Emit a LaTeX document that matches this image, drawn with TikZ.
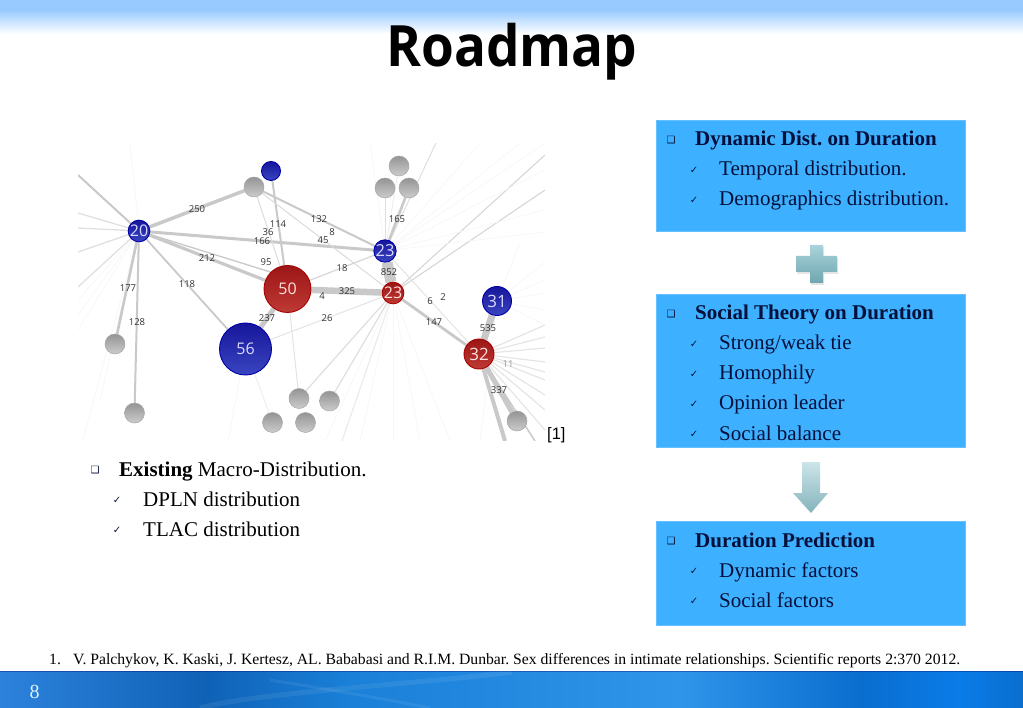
\documentclass[tikz,border=0pt]{standalone}
\usepackage{fontspec}
\usepackage{tikz}
\usetikzlibrary{calc,positioning,backgrounds}
\setmainfont{Liberation Serif}
\newfontfamily\titlefont[FakeStretch=0.93]{Open Sans}
\newfontfamily\graphfont{Open Sans}
\newfontfamily\markfont{DejaVu Sans}
\newfontfamily\refsans{Liberation Sans}
\definecolor{boxblue}{HTML}{3DB0FF}
\definecolor{boxink}{HTML}{04103A}
\definecolor{edgegrey}{gray}{0.79}
\definecolor{labelgrey}{gray}{0.2}
\definecolor{headblue}{HTML}{98CAFF}
\definecolor{redtop}{HTML}{9C1616}
\definecolor{redlow}{HTML}{BE3A34}
\definecolor{bluetop}{HTML}{16169A}
\definecolor{bluelow}{HTML}{3A45C0}
\definecolor{plustop}{HTML}{A9D3DA}
\definecolor{pluslow}{HTML}{6FA6B0}
\definecolor{foota}{HTML}{2D82DC}
\definecolor{footb}{HTML}{0F62B6}
\definecolor{footc}{HTML}{1A80D8}
\definecolor{footd}{HTML}{2F95EA}
\definecolor{foote}{HTML}{0A6ECF}
\definecolor{footf}{HTML}{0A7CE8}
\tikzset{redball/.style={shape=circle,inner sep=0pt,draw=red!65!black,line width=.9pt,top color=redtop,bottom color=redlow,text=white!88!red},
blueball/.style={shape=circle,inner sep=0pt,draw=blue!65!black,line width=.9pt,top color=bluetop,bottom color=bluelow,text=white!85!blue},
greyball/.style={shape=circle,inner sep=0pt,draw=black!35,line width=.5pt,top color=black!42,bottom color=black!20,minimum size=20pt},
edgelabel/.style={font=\graphfont\fontsize{9.5}{10}\selectfont,text=labelgrey,inner sep=0pt},
edge/.style={draw=edgegrey,line width=#1},
fainter/.style={draw=black!3,line width=.8pt},
roadbox/.style={fill=boxblue,draw=boxblue!80!white,line width=.6pt,inner sep=0pt},
headline/.style={anchor=base west,inner sep=0pt,font=\fontsize{21}{21}\selectfont\bfseries,text=boxink},
itemline/.style={anchor=base west,inner sep=0pt,font=\fontsize{21}{21}\selectfont,text=boxink},
squaremark/.style={anchor=center,inner sep=0pt,font=\markfont\fontsize{10}{10}\selectfont,text=boxink},
checkmark/.style={anchor=center,inner sep=0pt,font=\markfont\fontsize{10}{10}\selectfont,text=boxink}}

\begin{document}
\frenchspacing
\begin{tikzpicture}[x=1pt,y=-1pt]
\useasboundingbox (0,0) rectangle (1023,708);

% Header and footer bands
\fill[headblue] (0,0) rectangle (1023,10);
\shade[top color=headblue,bottom color=white] (0,10) rectangle (1023,34);
\shade[left color=foota,right color=footb] (0,671) rectangle (205,708);
\shade[left color=footb,right color=footc] (205,671) rectangle (350,708);
\shade[left color=footc,right color=footd] (350,671) rectangle (680,708);
\shade[left color=footd,right color=foote] (680,671) rectangle (860,708);
\shade[left color=foote,right color=footf] (860,671) rectangle (960,708);
\shade[left color=footf,right color=foote] (960,671) rectangle (1023,708);
\draw[white,opacity=.07,line width=5pt] (200,708) .. controls (260,692) and (420,684) .. (512,672);
\draw[white,opacity=.07,line width=3pt] (270,680) .. controls (320,688) and (380,698) .. (430,708);
\fill[black!60!blue,opacity=.35] (0,670.5) rectangle (1023,671.5);

% Title
\node[font=\titlefont\bfseries\fontsize{57}{57}\selectfont,inner sep=0pt,anchor=base] (title) at (512,67) {Roadmap};

% Coloured nodes
\node[blueball,minimum size=19pt,font=\graphfont\fontsize{16}{16}\selectfont] (n20) at (139,231) {20};
\node[blueball,minimum size=19pt] (nTop) at (271,171) {};
\node[redball,minimum size=47pt,font=\graphfont\fontsize{16}{16}\selectfont] (n50) at (287.5,289) {50};
\node[blueball,minimum size=52pt,font=\graphfont\fontsize{16}{16}\selectfont] (n56) at (245.5,349) {56};
\node[blueball,minimum size=21pt,font=\graphfont\fontsize{16.5}{17}\selectfont] (nB23) at (385,251) {23};
\node[redball,minimum size=21pt,font=\graphfont\fontsize{16}{16}\selectfont] (nR23) at (393,293) {23};
\node[blueball,minimum size=29pt,font=\graphfont\fontsize{17}{17}\selectfont] (n31) at (497,301) {31};
\node[redball,minimum size=30pt,font=\graphfont\fontsize{17}{17}\selectfont] (n32) at (479,354) {32};

% Grey nodes
\node[greyball] (gTop) at (254,187) {};
\node[greyball] (gLeft) at (115,344) {};
\node[greyball] (gLow) at (134.5,413) {};
\node[greyball] (gA) at (299,398.5) {};
\node[greyball] (gB) at (272.5,422.5) {};
\node[greyball] (gC) at (305.5,422.5) {};
\node[greyball] (gD) at (329.5,401) {};
\node[greyball] (gE) at (399,166) {};
\node[greyball] (gF) at (385,188) {};
\node[greyball] (gG) at (409,188) {};
\node[greyball] (gH) at (517,421) {};

\begin{pgfonlayer}{background}
% Faint edges
\begin{scope}
\clip (78,143) rectangle (545,441);
\foreach \i/\x/\y in {1/78/213,2/78/228,3/78/252,4/78/287} {
  \coordinate (l\i) at (\x,\y);
  \draw[edge=1.3pt,draw=black!12] (n20) -- (l\i);
}
\foreach \i/\x/\y in {1/78/300,2/78/315,3/78/330,4/83/440,5/100/400,6/130/143} {
  \coordinate (m\i) at (\x,\y);
  \draw[fainter] (n20) -- (m\i);
}
\foreach \i/\x/\y in {1/545/155,2/545/190} {
  \coordinate (t\i) at (\x,\y);
  \draw[edge=1.1pt,draw=black!16] (nR23) -- (t\i);
}
\foreach \i/\x/\y in {1/545/143,2/545/170,3/545/210,4/520/143,5/480/143,6/545/232,7/370/143} {
  \coordinate (u\i) at (\x,\y);
  \draw[fainter] (nB23) -- (u\i);
}
\foreach \i/\x/\y in {1/360/441,2/393/441,3/420/441,4/450/441,5/325/441} {
  \coordinate (d\i) at (\x,\y);
  \draw[fainter] (nR23) -- (d\i);
}
\foreach \i/\x/\y in {1/545/325,2/545/337,3/545/348,4/545/362,5/545/372,6/545/380,7/545/395,8/545/410,9/545/430} {
  \coordinate (r\i) at (\x,\y);
  \draw[edge=1.2pt,draw=black!10] (n32) -- (r\i);
}
\foreach \i/\x/\y in {1/545/262,2/545/280,3/545/293,4/545/310,5/545/325,6/520/243,7/480/441} {
  \coordinate (s\i) at (\x,\y);
  \draw[fainter] (n31) -- (s\i);
}
\coordinate (x1) at (78,175);
\coordinate (x2) at (505,441);
\coordinate (x3) at (535,441);
\coordinate (x4) at (436,143);
\coordinate (x5) at (228,441);
\coordinate (x6) at (342,441);
\draw[edge=2pt] (n20) -- (x1);
\draw[edge=4pt] (n32) -- (x2);
\draw[edge=1.5pt] (n32) -- (x3);
\draw[edge=1pt,draw=black!13] (nB23) -- (x4);
\draw[fainter] (n56) -- (x5);
\draw[edge=1.2pt,draw=black!8] (nR23) -- (x6);
\end{scope}

% Edges
\draw[edge=3.5pt] (n20) -- (gTop);
\draw[edge=2.6pt] (n20) -- (gLeft);
\draw[edge=2pt] (n20) -- (gLow);
\draw[edge=3.2pt] (n20) -- (n50);
\draw[edge=1.3pt] (n20) -- (n50.north west);
\draw[edge=1.8pt] (n20) -- (n56);
\draw[edge=3pt] (n20) -- (nB23);
\draw[edge=2pt] (nTop) -- (n50);
\draw[edge=1pt,draw=black!14] (gTop) -- (n50);
\draw[edge=2pt] (gTop) -- (nB23);
\draw[edge=1pt,draw=black!14] (gTop) -- (nR23);
\draw[edge=5pt] (n50) -- (n56);
\draw[edge=6.5pt] (n50) -- (nR23);
\draw[edge=1.2pt,draw=black!16] (n50) -- (nB23);
\draw[edge=1pt,draw=black!11] (n56) -- (nR23);
\draw[edge=1pt,draw=black!11] (n50) -- (gA);
\draw[edge=1pt,draw=black!7] (n56) -- (gB);
\draw[edge=1.2pt,draw=black!13] (nR23) -- (gA);
\draw[edge=1.2pt,draw=black!13] (nR23) -- (gD);
\draw[edge=11pt] (nB23) -- (nR23);
\draw[edge=1pt,draw=black!13] (nB23) -- (gF);
\draw[edge=2.6pt] (nB23) -- (gG);
\draw[edge=1pt,draw=black!7] (nB23) -- (gE);
\draw[edge=2.8pt] (nR23) -- (n32);
\draw[edge=1pt,draw=black!11] (nB23) -- (n32);
\draw[edge=7pt] (n31) -- (n32);
\draw[edge=5pt] (n32) -- (gH);
\end{pgfonlayer}

% Edge labels
\foreach \t/\x/\y in {250/197/209,114/278/224,36/268/232,166/262/241,212/207/258,95/266/262,118/187/284,177/128/288,128/137/322,237/267/318,132/319/219,8/332/232,45/323/240,165/397/219,852/389/272,18/342/268,325/347/291,4/322/296,26/327/318,6/430/301,2/443/297,147/434/322,535/488/328,337/499/390}
  \node[edgelabel] (lab\t) at (\x,\y) {\t};
\node[edgelabel,text=black!40] (lab11) at (508,364) {11};

\node[anchor=base west,inner sep=0pt,font=\refsans\fontsize{16.5}{16.5}\selectfont] (cite) at (547,439) {[1]};

% Left list
\node[squaremark] (leftSq) at (95,470) {❑};
\node[itemline,text=black] (leftHead) at (119,476) {\textbf{Existing} Macro-Distribution.};
\node[checkmark] (leftC1) at (117,500) {✓};
\node[itemline,text=black] (leftT1) at (143,506) {DPLN distribution};
\node[checkmark] (leftC2) at (117,530) {✓};
\node[itemline,text=black] (leftT2) at (143,536) {TLAC distribution};

% Right boxes
\path[roadbox] (656,120) rectangle (965,231);
\path[roadbox] (656,294) rectangle (965,447);
\path[roadbox] (656,521) rectangle (965,625);

\node[squaremark] (dynSq) at (671,140) {❑};
\node[headline] (dynHead) at (695,146) {Dynamic Dist. on Duration};
\node[checkmark] (dynC1) at (694,170) {✓};
\node[itemline] (dynT1) at (719,176) {Temporal distribution.};
\node[checkmark] (dynC2) at (694,200) {✓};
\node[itemline] (dynT2) at (719,206) {Demographics distribution.};

\node[squaremark] (socSq) at (671,314) {❑};
\node[headline] (socHead) at (695,320) {Social Theory on Duration};
\foreach \i/\t in {1/Strong\slash weak tie,2/Homophily,3/Opinion leader,4/Social balance} {
  \node[checkmark] (socC\i) at (694,314+30*\i) {✓};
  \node[itemline] (socT\i) at (719,320+30*\i) {\t};
}

\node[squaremark] (durSq) at (671,541) {❑};
\node[headline] (durHead) at (695,547) {Duration Prediction};
\node[checkmark] (durC1) at (694,571) {✓};
\node[itemline] (durT1) at (719,577) {Dynamic factors};
\node[checkmark] (durC2) at (694,601) {✓};
\node[itemline] (durT2) at (719,607) {Social factors};

% Plus sign
\fill[black!20,opacity=.5] (811,247) -- (824,247) -- (824,258) -- (838,258) -- (838,274) -- (824,274) -- (824,285) -- (811,285) -- (811,274) -- (797,274) -- (797,258) -- (811,258) -- cycle;
\shade[top color=plustop,bottom color=pluslow] (810,245) -- (823,245) -- (823,256) -- (837,256) -- (837,272) -- (823,272) -- (823,283) -- (810,283) -- (810,272) -- (796,272) -- (796,256) -- (810,256) -- cycle;

% Down arrow
\shade[top color=plustop!60!white,bottom color=pluslow!85!white] (802,462) -- (820,462) -- (820,493) -- (828,493) -- (811,513) -- (793,493) -- (802,493) -- cycle;

% Footnote and page number
\node[anchor=base west,inner sep=0pt,font=\fontsize{15.7}{16}\selectfont] (noteNum) at (49,664) {1.};
\node[anchor=base west,inner sep=0pt,font=\fontsize{15.7}{16}\selectfont] (noteText) at (73,664) {V. Palchykov, K. Kaski, J. Kertesz, AL. Bababasi and R.I.M. Dunbar. Sex differences in intimate relationships. Scientific reports 2:370 2012.};
\node[anchor=base,inner sep=0pt,text=cyan!15!white,font=\fontsize{20}{20}\selectfont] (pageNum) at (34.5,698) {8};
\end{tikzpicture}
\end{document}
